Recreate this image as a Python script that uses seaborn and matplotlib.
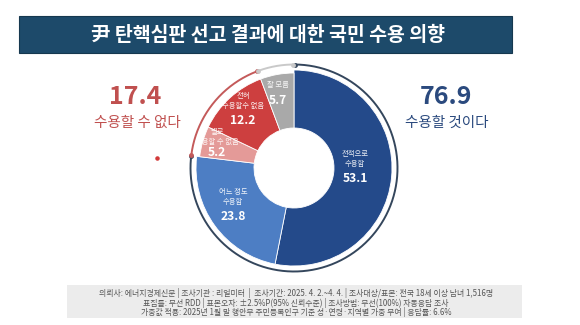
import numpy as np
import pandas as pd
import matplotlib
matplotlib.use("Agg")
import matplotlib.pyplot as plt
from matplotlib.patches import Rectangle
import seaborn as sns

# ---- data ----
categories = ["전적으로\n수용함", "어느 정도\n수용함", "별로\n수용할 수 없음", "전혀\n수용할수 없음", "잘 모름"]
shares = [53.1, 23.8, 5.2, 12.2, 5.7]
groups = ["수용할 것이다", "수용할 것이다", "수용할 수 없다", "수용할 수 없다", "잘 모름"]

title = "尹 탄핵심판 선고 결과에 대한 국민 수용 의향"
footer_lines = [
    "의뢰사: 에너지경제신문 | 조사기관 : 리얼미터  |  조사기간: 2025. 4. 2.~4. 4. | 조사대상/표본: 전국 18세 이상 남녀 1,516명",
    "표집틀: 무선 RDD | 표본오차: ±2.5%P(95% 신뢰수준) | 조사방법: 무선(100%) 자동응답 조사",
    "가중값 적용: 2025년 1월 말 행안부 주민등록인구 기준 성·연령·지역별 가중 부여 | 응답률: 6.6%",
]

df = pd.DataFrame({"category": categories, "share": shares, "group": groups})
group_totals = df.groupby("group", sort=False)["share"].sum()

# ---- style ----
sns.set_theme(style="white")
plt.rcParams["font.family"] = ["Noto Sans CJK KR", "DejaVu Sans"]

slice_colors = sns.color_palette(["#244a8a", "#4d7ec4", "#e49a98", "#cd3f3f", "#a9a9a9"])
ring_colors = {"수용할 것이다": "#34465c", "수용할 수 없다": "#c45a5a", "잘 모름": "#c9c9c9"}
accept_color = "#2b4a7e"
reject_color = "#c0504f"

W, H = 580, 325
fig = plt.figure(figsize=(W / 100, H / 100), dpi=100, facecolor="white")

# background layer in pixel coordinates
bg = fig.add_axes([0, 0, 1, 1], zorder=0)
bg.set_xlim(0, W)
bg.set_ylim(H, 0)
bg.axis("off")

bg.add_patch(Rectangle((19, 16), 493, 37, facecolor="#1d4a6a", edgecolor="#16384f", lw=0.8))
bg.text(268, 35, title, color="white", fontsize=14, fontweight="bold",
        ha="center", va="center")

bg.add_patch(Rectangle((67, 285), 455, 33, facecolor="#ececec", edgecolor="none"))
for i, line in enumerate(footer_lines):
    bg.text(296, 293 + i * 9.5, line, color="#555555", fontsize=5.7,
            ha="center", va="center")

# group totals on both sides
bg.text(135, 97, f"{group_totals['수용할 수 없다']:.1f}", color=reject_color,
        fontsize=18, fontweight="bold", ha="center", va="center")
bg.text(137, 123, "수용할 수 없다", color=reject_color, fontsize=10.5,
        ha="center", va="center")
bg.text(446, 97, f"{group_totals['수용할 것이다']:.1f}", color=accept_color,
        fontsize=18, fontweight="bold", ha="center", va="center")
bg.text(447, 123, "수용할 것이다", color=accept_color, fontsize=10.5,
        ha="center", va="center")
bg.scatter([157], [158], s=5, color="#d23a3a", zorder=3)

# ---- donut ----
cx, cy, half = 294, 168, 110
ax = fig.add_axes([(cx - half) / W, (H - cy - half) / H, 2 * half / W, 2 * half / H], zorder=1)
ax.patch.set_alpha(0)
outer, hole = 0.98, 0.40
wedges, _ = ax.pie(df["share"], colors=slice_colors, startangle=90, counterclock=False,
                   radius=outer,
                   wedgeprops=dict(width=outer - hole, edgecolor="white", linewidth=0.6))
for w, g in zip(wedges, df["group"]):
    if g != "수용할 것이다":
        w.set_radius(0.95)
        w.set_width(0.95 - hole)
ax.set_xlim(-1.1, 1.1)
ax.set_ylim(-1.1, 1.1)
ax.set_aspect("equal")
ax.axis("off")

# thin outer ring per group with end dots
ring_r, gap = 1.035, 0.6
start = 0.0
for g, tot in group_totals.items():
    a0 = 90 - 3.6 * start - gap * 0.5
    a1 = 90 - 3.6 * (start + tot) + gap * 0.5
    th = np.radians(np.linspace(a0, a1, 200))
    col = ring_colors[g]
    ax.plot(ring_r * np.cos(th), ring_r * np.sin(th), color=col, lw=1.4,
            solid_capstyle="butt", clip_on=False)
    ax.scatter(ring_r * np.cos(th[[0, -1]]), ring_r * np.sin(th[[0, -1]]),
               s=6, color=col, zorder=4, clip_on=False)
    start += tot

# ---- slice labels ----
top = fig.add_axes([0, 0, 1, 1], zorder=2)
top.set_xlim(0, W)
top.set_ylim(H, 0)
top.axis("off")
label_xy = [(355, 159), (233, 197), (217, 137), (243, 101), (278, 85)]
value_dy = [20, 20, 16, 20, 15]
for (x, y), cat, v, dy in zip(label_xy, df["category"], df["share"], value_dy):
    top.text(x, y, cat, color="white", fontsize=5.3, ha="center", va="center",
             linespacing=1.25, alpha=0.9)
    top.text(x, y + dy, f"{v:.1f}", color="white", fontsize=8.7, fontweight="bold",
             ha="center", va="center")

fig.savefig("out.png", dpi=100, facecolor="white")
